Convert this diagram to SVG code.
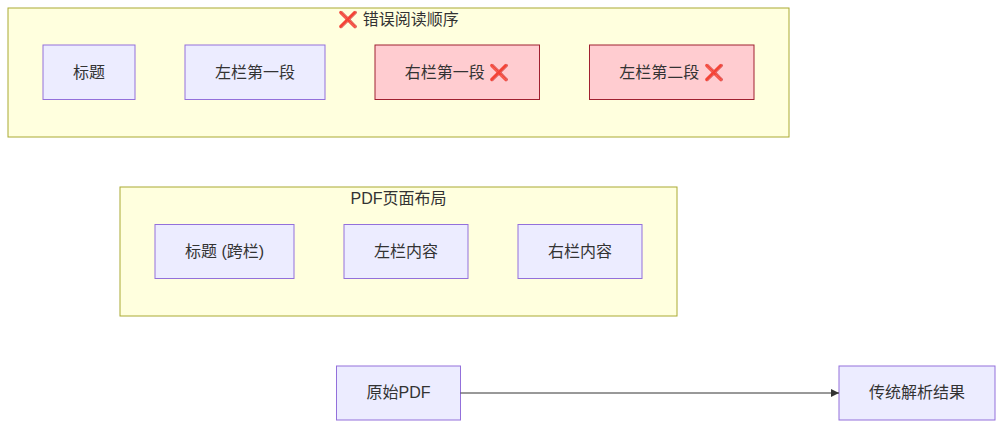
<svg xmlns="http://www.w3.org/2000/svg" width="1003" height="428" viewBox="0 0 1003 428">
<defs>
<style>
text{font-family:"Liberation Sans","Noto Sans CJK SC",sans-serif;font-size:16px;fill:#333;text-anchor:middle}
.c{fill:#ffffde;stroke:#aaaa33;stroke-width:1}
.n{fill:#ececff;stroke:#9370db;stroke-width:1}
.e{fill:#ffccd0;stroke:#a02030;stroke-width:1}
.l{fill:none;stroke:#333;stroke-width:1}
</style>
<marker id="arrow" markerWidth="8" markerHeight="8" refX="8" refY="4" orient="auto" markerUnits="userSpaceOnUse"><path d="M0 0L8 4L0 8z" fill="#333"/></marker>
</defs>
<rect width="1003" height="428" fill="#fff"/>
<g id="wrong"><rect class="c" x="8" y="8" width="781" height="129"/><text x="398.500" y="25">❌ 错误阅读顺序</text></g>
<g id="layout"><rect class="c" x="120" y="187" width="557" height="129"/><text x="398.500" y="204">PDF页面布局</text></g>
<g id="w1"><rect class="n" x="43" y="45" width="92" height="54.500"/><text x="89" y="78">标题</text></g>
<g id="w2"><rect class="n" x="185" y="45" width="140" height="54.500"/><text x="255" y="78">左栏第一段</text></g>
<g id="w3"><rect class="e" x="375" y="45" width="164.500" height="54.500"/><text x="457" y="78">右栏第一段 ❌</text></g>
<g id="w4"><rect class="e" x="589.500" y="45" width="164.500" height="54.500"/><text x="671.500" y="78">左栏第二段 ❌</text></g>
<g id="p1"><rect class="n" x="155" y="224.500" width="139" height="54"/><text x="224.500" y="257">标题 (跨栏)</text></g>
<g id="p2"><rect class="n" x="344" y="224.500" width="124" height="54"/><text x="406" y="257">左栏内容</text></g>
<g id="p3"><rect class="n" x="518" y="224.500" width="124" height="54"/><text x="580" y="257">右栏内容</text></g>
<g id="src"><rect class="n" x="336.500" y="366" width="124" height="54"/><text x="398.500" y="398">原始PDF</text></g>
<g id="res"><rect class="n" x="839" y="366" width="156" height="54"/><text x="917" y="398">传统解析结果</text></g>
<g id="connectors"><path class="l" d="M460.500 393H839" marker-end="url(#arrow)"/></g>
</svg>
